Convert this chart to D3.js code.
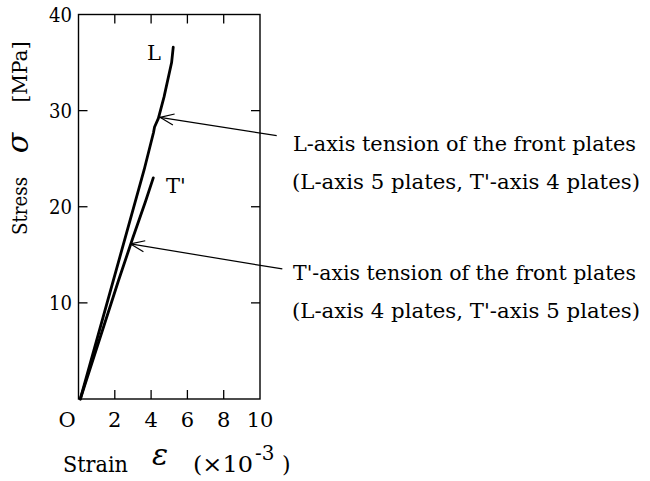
<!DOCTYPE html>
<html>
<head>
<meta charset="utf-8">
<script src="https://cdn.jsdelivr.net/npm/d3@7"></script>
<style>
  html, body { margin: 0; padding: 0; background: #fff; }
  svg { display: block; }
  svg text { font-family: "DejaVu Serif", "Liberation Serif", serif !important; }
</style>
</head>
<body>
<svg id="chart" width="650" height="481"></svg>
<script>
// Stress–strain curves for the two loading directions
const strainL  = [0.1, 3.61, 4.13, 4.19, 4.40, 4.71, 5.13, 5.22];
const stressL  = [0,   23.8, 27.7, 28.3, 29.2, 31.4, 35.0, 36.6];
const strainT  = [0.1, 2.2, 3.0, 3.7, 4.12];
const stressT  = [0,   12.3, 16.8, 20.6, 23.0];

const xTicks = [2, 4, 6, 8, 10];
const yTicks = [10, 20, 30, 40];

// Callouts: arrow tail (outside the frame) -> arrow tip on the curve, in data units
const calloutTail = [[10.92, 27.4], [11.23, 13.53]];
const calloutTip  = [[4.49, 29.3], [2.87, 16.13]];
const calloutText = [
  ["L-axis tension of the front plates", "(L-axis 5 plates, T'-axis 4 plates)"],
  ["T'-axis tension of the front plates", "(L-axis 4 plates, T'-axis 5 plates)"]
];

const svg = d3.select("#chart");
const x = d3.scaleLinear().domain([0, 10]).range([78.5, 260]);
const y = d3.scaleLinear().domain([0, 40]).range([399, 14.5]);

// Frame
svg.append("rect")
  .attr("x", x(0)).attr("y", y(40))
  .attr("width", x(10) - x(0)).attr("height", y(0) - y(40))
  .attr("fill", "none").attr("stroke", "#000").attr("stroke-width", 1.4);

// Inward ticks on all four sides
const tickLen = 9;
const gx = svg.append("g");
xTicks.filter(v => v < 10).forEach(v => {
  gx.append("line").attr("x1", x(v)).attr("x2", x(v)).attr("y1", y(0)).attr("y2", y(0) - tickLen)
    .attr("stroke", "#000").attr("stroke-width", 1.3);
  gx.append("line").attr("x1", x(v)).attr("x2", x(v)).attr("y1", y(40)).attr("y2", y(40) + tickLen)
    .attr("stroke", "#000").attr("stroke-width", 1.3);
});
yTicks.filter(v => v < 40).forEach(v => {
  gx.append("line").attr("x1", x(0)).attr("x2", x(0) + tickLen).attr("y1", y(v)).attr("y2", y(v))
    .attr("stroke", "#000").attr("stroke-width", 1.3);
  gx.append("line").attr("x1", x(10)).attr("x2", x(10) - tickLen).attr("y1", y(v)).attr("y2", y(v))
    .attr("stroke", "#000").attr("stroke-width", 1.3);
});

// Tick labels
const fs = 21;
xTicks.forEach(v => {
  svg.append("text").attr("x", x(v)).attr("y", 427).attr("text-anchor", "middle")
    .attr("font-size", fs).text(v);
});
svg.append("text").attr("x", 67).attr("y", 427).attr("text-anchor", "middle")
  .attr("font-size", fs).text("O");
yTicks.forEach(v => {
  svg.append("text").attr("x", 72).attr("y", y(v) + 7.5).attr("text-anchor", "end")
    .attr("font-size", fs).attr("textLength", 23).attr("lengthAdjust", "spacingAndGlyphs").text(v);
});

// Curves
const line = d3.line().x(d => x(d[0])).y(d => y(d[1])).curve(d3.curveLinear);
const seriesL = strainL.map((s, i) => [s, stressL[i]]);
const seriesT = strainT.map((s, i) => [s, stressT[i]]);
[seriesL, seriesT].forEach(s => {
  svg.append("path").datum(s).attr("d", line)
    .attr("fill", "none").attr("stroke", "#000").attr("stroke-width", 2.8)
    .attr("stroke-linejoin", "round").attr("stroke-linecap", "round");
});

// Curve labels
svg.append("text").attr("x", 147).attr("y", 60).attr("font-size", 21).text("L");
svg.append("text").attr("x", 166).attr("y", 193).attr("font-size", 21).text("T'");

// Callout arrows with open heads
calloutTail.forEach((t, i) => {
  const x1 = x(t[0]), y1 = y(t[1]);
  const x2 = x(calloutTip[i][0]), y2 = y(calloutTip[i][1]);
  svg.append("line").attr("x1", x1).attr("y1", y1).attr("x2", x2).attr("y2", y2)
    .attr("stroke", "#000").attr("stroke-width", 1.2);
  const ang = Math.atan2(y1 - y2, x1 - x2);
  const L = 15, a = 0.38;
  [ang - a, ang + a].forEach(th => {
    svg.append("line").attr("x1", x2).attr("y1", y2)
      .attr("x2", x2 + L * Math.cos(th)).attr("y2", y2 + L * Math.sin(th))
      .attr("stroke", "#000").attr("stroke-width", 1.2);
  });
});

// Callout text
const textBase = [151, 280];
calloutText.forEach((lines, i) => {
  svg.append("text").attr("x", 293).attr("y", textBase[i]).attr("font-size", 20)
    .attr("textLength", 343).attr("lengthAdjust", "spacingAndGlyphs").text(lines[0]);
  svg.append("text").attr("x", 292).attr("y", textBase[i] + 38).attr("font-size", 20)
    .attr("textLength", 348).attr("lengthAdjust", "spacingAndGlyphs").text(lines[1]);
});

// Y-axis title (rotated)
const yt = svg.append("g").attr("transform", "translate(27,0) rotate(-90)");
yt.append("text").attr("x", -206).attr("y", 0).attr("text-anchor", "middle")
  .attr("font-size", 21).attr("textLength", 58).attr("lengthAdjust", "spacingAndGlyphs").text("Stress");
yt.append("text").attr("x", -143).attr("y", 1).attr("text-anchor", "middle")
  .attr("font-size", 30).attr("font-style", "italic").text("σ");
yt.append("text").attr("x", -72).attr("y", 0).attr("text-anchor", "middle")
  .attr("font-size", 21).attr("textLength", 61).attr("lengthAdjust", "spacingAndGlyphs").text("[MPa]");

// X-axis title
svg.append("text").attr("x", 63).attr("y", 472).attr("font-size", 22)
  .attr("textLength", 65).attr("lengthAdjust", "spacingAndGlyphs").text("Strain");
svg.append("text").attr("x", 152).attr("y", 465).attr("font-size", 30)
  .attr("font-style", "italic").text("ε");
svg.append("text").attr("x", 193).attr("y", 472).attr("font-size", 22)
  .attr("textLength", 60).attr("lengthAdjust", "spacingAndGlyphs").text("(×10");
svg.append("text").attr("x", 255).attr("y", 460).attr("font-size", 20).text("-3");
svg.append("text").attr("x", 282).attr("y", 472).attr("font-size", 22).text(")");
</script>
</body>
</html>
